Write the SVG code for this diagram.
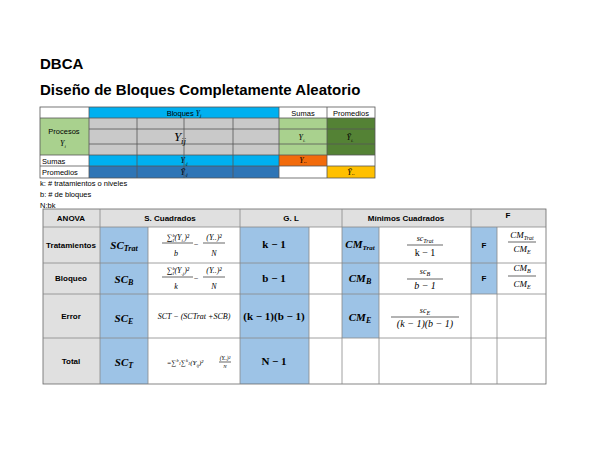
<svg xmlns="http://www.w3.org/2000/svg" width="600" height="464" viewBox="0 0 600 464">
<style>
.t{font-family:"Liberation Sans",Arial,sans-serif;fill:#000}
.m{font-family:"Liberation Serif","DejaVu Serif",serif;font-style:italic;fill:#000}
.b{font-weight:bold}
.g{stroke:#555;stroke-width:0.8;fill:none}
.c{stroke:#888;stroke-width:0.8}
</style>
<rect width="600" height="464" fill="#fff"/>
<g id="titles">
<text class="t b" x="40" y="69" font-size="15">DBCA</text>
<text class="t b" x="40" y="95" font-size="15">Diseño de Bloques Completamente Aleatorio</text>
</g>
<g id="top-table">
<rect x="40" y="107" width="335" height="71" fill="#fff"/>
<rect x="89" y="107" width="190" height="11" fill="#00b0f0"/>
<rect x="40" y="118" width="49" height="37" fill="#a9d18e"/>
<rect x="89" y="118" width="190" height="37" fill="#c9c9c9"/>
<rect x="279" y="118" width="48" height="37" fill="#a9d18e"/>
<rect x="327" y="118" width="48" height="37" fill="#548235"/>
<rect x="89" y="155" width="190" height="11" fill="#00b0f0"/>
<rect x="279" y="155" width="48" height="11" fill="#f26b0c"/>
<rect x="89" y="166" width="190" height="12" fill="#2e75b6"/>
<rect x="327" y="166" width="48" height="12" fill="#ffc000"/>
<g class="g">
<rect x="40" y="107" width="335" height="71"/>
<path d="M89 107V178M279 107V178M327 107V178M137 118V178M184 118V178M233 118V178M40 118H375M89 129H375M89 144H375M40 155H375M40 166H375"/>
</g>
<text class="t" x="184" y="115.5" font-size="7.5" text-anchor="middle">Bloques <tspan class="m">Y</tspan><tspan class="m" font-size="5" dy="1.5">j</tspan></text>
<text class="t" x="303" y="115.5" font-size="7.5" text-anchor="middle">Sumas</text>
<text class="t" x="351" y="115.5" font-size="7.5" text-anchor="middle">Promedios</text>
<text class="t" x="64" y="134" font-size="7.5" text-anchor="middle">Procesos</text>
<text class="m" x="63" y="146" font-size="8" text-anchor="middle">Y<tspan font-size="5" dy="1.5">i</tspan></text>
<text class="m" x="180" y="141" font-size="13" text-anchor="middle">Y<tspan font-size="9" dy="3">ij</tspan></text>
<text class="m" x="302" y="140" font-size="8" text-anchor="middle">Y<tspan font-size="5" dy="1.5">i.</tspan></text>
<text class="m" x="350" y="140" font-size="8" text-anchor="middle">Ȳ<tspan font-size="5" dy="1.5">i.</tspan></text>
<text class="t" x="42" y="163.5" font-size="7.5">Sumas</text>
<text class="t" x="42" y="174.5" font-size="7.5">Promedios</text>
<text class="m" x="184" y="163" font-size="8" text-anchor="middle">Y<tspan font-size="5" dy="1.5">.j</tspan></text>
<text class="m" x="184" y="174.5" font-size="8" text-anchor="middle">Ȳ<tspan font-size="5" dy="1.5">.j</tspan></text>
<text class="m" x="303" y="163" font-size="8" text-anchor="middle">Y<tspan font-size="6">..</tspan></text>
<text class="m" x="351" y="174.5" font-size="8" text-anchor="middle">Ȳ<tspan font-size="6">..</tspan></text>
</g>
<g id="notes">
<text class="t" x="40" y="186" font-size="7.5">k: # tratamientos o niveles</text>
<text class="t" x="40" y="197" font-size="7.5">b: # de bloques</text>
<text class="t" x="40" y="207.5" font-size="7.5">N:bk</text>
</g>
<g id="anova">
<rect x="43" y="209" width="503" height="18" fill="#e0e0e0"/>
<rect x="43" y="227" width="57" height="157" fill="#e0e0e0"/>
<rect x="100" y="227" width="48" height="157" fill="#9dc3e6"/>
<rect x="240" y="227" width="69" height="157" fill="#9dc3e6"/>
<rect x="342" y="227" width="37" height="111" fill="#9dc3e6"/>
<rect x="471" y="227" width="26" height="67" fill="#9dc3e6"/>
<g class="c">
<rect x="43" y="209" width="503" height="175" fill="none" stroke="#666"/>
<path d="M43 227H546M43 263H546M43 294H546M43 338H546M100 209V384M240 209V384M342 209V384M471 209V384M148 227V384M309 227V384M379 227V384M497 227V384"/>
</g>
<g class="t b" font-size="8" text-anchor="middle">
<text x="71" y="221">ANOVA</text>
<text x="170" y="221">S. Cuadrados</text>
<text x="291" y="221">G. L</text>
<text x="406" y="221">Mínimos Cuadrados</text>
<text x="508" y="218">F</text>
<text x="71" y="248">Tratamientos</text>
<text x="71" y="281">Bloqueo</text>
<text x="71" y="319">Error</text>
<text x="71" y="364">Total</text>
<text x="484" y="248">F</text>
<text x="484" y="281">F</text>
</g>
<g class="m b" font-size="11" text-anchor="middle">
<text x="124" y="249">SC<tspan font-size="8" dy="2">Trat</tspan></text>
<text x="124" y="283">SC<tspan font-size="8" dy="2">B</tspan></text>
<text x="124" y="322">SC<tspan font-size="8" dy="2">E</tspan></text>
<text x="124" y="366">SC<tspan font-size="8" dy="2">T</tspan></text>
<text x="274" y="248" font-style="normal">k − 1</text>
<text x="274" y="282" font-style="normal">b − 1</text>
<text x="274" y="320" font-style="normal">(k − 1)(b − 1)</text>
<text x="274" y="365" font-style="normal">N − 1</text>
<text x="360" y="248">CM<tspan font-size="7" dy="2">Trat</tspan></text>
<text x="360" y="282">CM<tspan font-size="8" dy="2">B</tspan></text>
<text x="360" y="321">CM<tspan font-size="8" dy="2">E</tspan></text>
</g>
<g class="m" font-size="8" text-anchor="middle">
<text x="178" y="240">∑<tspan font-size="5" dy="-3">b</tspan><tspan font-size="5" dx="-3" dy="5">1</tspan><tspan dy="-2">(Y</tspan><tspan font-size="5" dy="1.5">i.</tspan><tspan dy="-1.5">)²</tspan></text>
<text x="176" y="256">b</text>
<text x="196" y="247">−</text>
<text x="214" y="240">(Y..)²</text>
<text x="214" y="256">N</text>
<text x="178" y="273">∑<tspan font-size="5" dy="-3">b</tspan><tspan font-size="5" dx="-3" dy="5">1</tspan><tspan dy="-2">(Y</tspan><tspan font-size="5" dy="1.5">.j</tspan><tspan dy="-1.5">)²</tspan></text>
<text x="176" y="289">k</text>
<text x="196" y="281">−</text>
<text x="214" y="273">(Y..)²</text>
<text x="214" y="289">N</text>
<text x="194" y="319">SCT − (SCTrat +SCB)</text>
<text x="185" y="365" font-size="7">=∑<tspan font-size="4.5" dy="-3">b</tspan><tspan font-size="4.5" dy="3">1</tspan>∑<tspan font-size="4.5" dy="-3">k</tspan><tspan font-size="4.5" dy="3">1</tspan>(Y<tspan font-size="4.5" dy="1.5">ij</tspan><tspan dy="-1.5">)²</tspan></text>
<text x="225" y="360" font-size="5.5">(Y..)²</text>
<text x="225" y="368" font-size="5">N</text>
<text x="425" y="241">sc<tspan font-size="6" dy="1.5">Trat</tspan></text>
<text x="425" y="256" font-size="10" font-style="normal">k − 1</text>
<text x="425" y="274">sc<tspan font-size="6" dy="1.5">B</tspan></text>
<text x="425" y="289" font-size="10">b − 1</text>
<text x="425" y="313">sc<tspan font-size="6" dy="1.5">E</tspan></text>
<text x="425" y="327" font-size="10">(k − 1)(b − 1)</text>
<text x="522" y="238" font-size="9">CM<tspan font-size="6" dy="1.5">Trat</tspan></text>
<text x="522" y="252" font-size="9">CM<tspan font-size="6" dy="1.5">E</tspan></text>
<text x="522" y="271" font-size="9">CM<tspan font-size="6" dy="1.5">B</tspan></text>
<text x="522" y="287" font-size="9">CM<tspan font-size="6" dy="1.5">E</tspan></text>
</g>
<g stroke="#000" stroke-width="0.6">
<path d="M162 243H193M203 243H225M162 277H193M203 277H225M219 362H231M407 245H443M407 279H443M391 317H459M508 242H536M508 276H536"/>
</g>
</g>
</svg>
